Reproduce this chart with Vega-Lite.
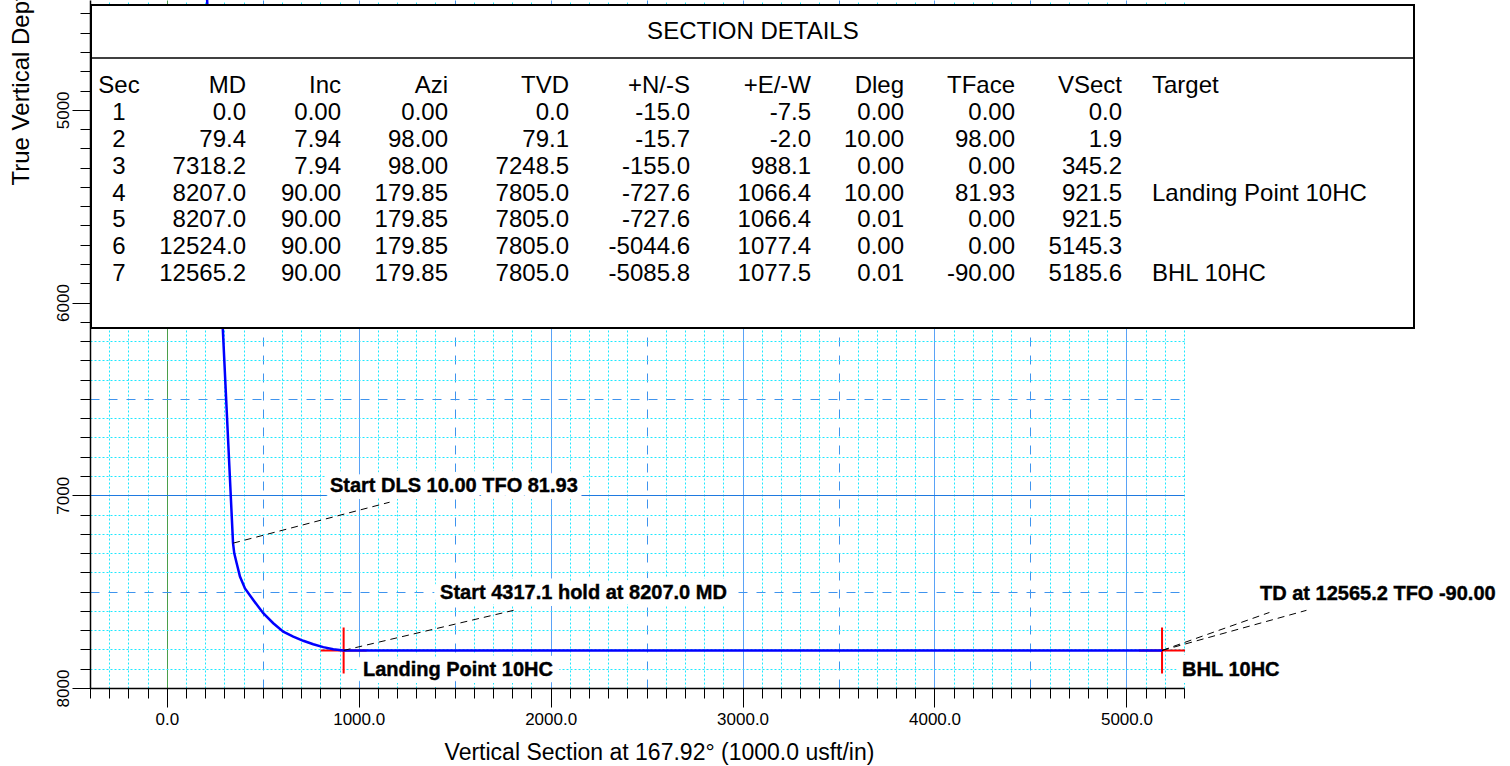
{
  "$schema": "https://vega.github.io/schema/vega-lite/v6.json",
  "width": 1094,
  "height": 688,
  "autosize": {"type": "none"},
  "padding": {"left": 90, "top": 0, "right": 326, "bottom": 78},
  "background": "white",
  "config": {"view": {"stroke": null}, "font": "Liberation Sans"},
  "datasets": {
    "path": [
      {"vs": 0, "tvd": 0}, {"vs": 1.9, "tvd": 79.1}, {"vs": 345.2, "tvd": 7248.5},
      {"vs": 351.7, "tvd": 7301}, {"vs": 364.2, "tvd": 7353}, {"vs": 381.4, "tvd": 7422},
      {"vs": 407.4, "tvd": 7483}, {"vs": 450.7, "tvd": 7543}, {"vs": 502.8, "tvd": 7612},
      {"vs": 554.9, "tvd": 7664}, {"vs": 607, "tvd": 7708}, {"vs": 659.1, "tvd": 7733},
      {"vs": 711.2, "tvd": 7755}, {"vs": 763.3, "tvd": 7773}, {"vs": 815.4, "tvd": 7788},
      {"vs": 867.5, "tvd": 7799}, {"vs": 921.5, "tvd": 7805}, {"vs": 5145.3, "tvd": 7805},
      {"vs": 5185.6, "tvd": 7805}
    ],
    "targets": [
      {"name": "Landing Point 10HC", "vs": 921.5, "tvd": 7805},
      {"name": "BHL 10HC", "vs": 5185.6, "tvd": 7805}
    ],
    "leaders": [
      {"vs": 345.2, "tvd": 7248.5, "vs2": 1161, "tvd2": 7036},
      {"vs": 921.5, "tvd": 7805, "vs2": 1807, "tvd2": 7597},
      {"vs": 5185.6, "tvd": 7805, "vs2": 5745, "tvd2": 7608},
      {"vs": 5185.6, "tvd": 7805, "vs2": 5938, "tvd2": 7597}
    ],
    "labels": [
      {"text": "Start DLS 10.00 TFO 81.93", "vs": 850, "tvd": 6952},
      {"text": "Start 4317.1 hold at 8207.0 MD", "vs": 1424, "tvd": 7507},
      {"text": "Landing Point 10HC", "vs": 1022, "tvd": 7907},
      {"text": "BHL 10HC", "vs": 5290, "tvd": 7907},
      {"text": "TD at 12565.2 TFO -90.00", "vs": 5696, "tvd": 7512}
    ],
    "box": [{"title": "SECTION DETAILS"}],
    "cols": [
      {"key": "Sec", "label": "Sec", "ci": 0},
      {"key": "MD", "label": "MD", "ci": 1},
      {"key": "Inc", "label": "Inc", "ci": 2},
      {"key": "Azi", "label": "Azi", "ci": 3},
      {"key": "TVD", "label": "TVD", "ci": 4},
      {"key": "NS", "label": "+N/-S", "ci": 5},
      {"key": "EW", "label": "+E/-W", "ci": 6},
      {"key": "Dleg", "label": "Dleg", "ci": 7},
      {"key": "TFace", "label": "TFace", "ci": 8},
      {"key": "VSect", "label": "VSect", "ci": 9},
      {"key": "Target", "label": "Target", "ci": 10}
    ],
    "sections": [
      {"Sec": 1, "MD": "0.0", "Inc": "0.00", "Azi": "0.00", "TVD": "0.0", "NS": "-15.0", "EW": "-7.5", "Dleg": "0.00", "TFace": "0.00", "VSect": "0.0", "Target": ""},
      {"Sec": 2, "MD": "79.4", "Inc": "7.94", "Azi": "98.00", "TVD": "79.1", "NS": "-15.7", "EW": "-2.0", "Dleg": "10.00", "TFace": "98.00", "VSect": "1.9", "Target": ""},
      {"Sec": 3, "MD": "7318.2", "Inc": "7.94", "Azi": "98.00", "TVD": "7248.5", "NS": "-155.0", "EW": "988.1", "Dleg": "0.00", "TFace": "0.00", "VSect": "345.2", "Target": ""},
      {"Sec": 4, "MD": "8207.0", "Inc": "90.00", "Azi": "179.85", "TVD": "7805.0", "NS": "-727.6", "EW": "1066.4", "Dleg": "10.00", "TFace": "81.93", "VSect": "921.5", "Target": "Landing Point 10HC"},
      {"Sec": 5, "MD": "8207.0", "Inc": "90.00", "Azi": "179.85", "TVD": "7805.0", "NS": "-727.6", "EW": "1066.4", "Dleg": "0.01", "TFace": "0.00", "VSect": "921.5", "Target": ""},
      {"Sec": 6, "MD": "12524.0", "Inc": "90.00", "Azi": "179.85", "TVD": "7805.0", "NS": "-5044.6", "EW": "1077.4", "Dleg": "0.00", "TFace": "0.00", "VSect": "5145.3", "Target": ""},
      {"Sec": 7, "MD": "12565.2", "Inc": "90.00", "Azi": "179.85", "TVD": "7805.0", "NS": "-5085.8", "EW": "1077.5", "Dleg": "0.01", "TFace": "-90.00", "VSect": "5185.6", "Target": "BHL 10HC"}
    ]
  },
  "layer": [
    {
      "encoding": {
        "x": {
          "field": "vs", "type": "quantitative",
          "scale": {"domain": [-400, 5300], "zero": false, "nice": false},
          "axis": {
            "values": [-400,-300,-200,-100,0,100,200,300,400,500,600,700,800,900,1000,1100,1200,1300,1400,1500,1600,1700,1800,1900,2000,2100,2200,2300,2400,2500,2600,2700,2800,2900,3000,3100,3200,3300,3400,3500,3600,3700,3800,3900,4000,4100,4200,4300,4400,4500,4600,4700,4800,4900,5000,5100,5200,5300],
            "grid": true,
            "gridColor": {"expr": "datum.value === 0 ? '#4a9e4a' : datum.value % 1000 === 0 ? '#5aa2f6' : datum.value % 500 === 0 ? '#3f94ee' : '#1ee8ff'"},
            "gridDash": {"expr": "datum.value % 1000 === 0 ? [] : datum.value % 500 === 0 ? [9, 9] : [2, 2]"},
            "gridWidth": 1,
            "gridOpacity": 1,
            "domainColor": "#000000",
            "domainWidth": 1.5,
            "tickColor": "#000000",
            "tickWidth": 1,
            "tickSize": {"expr": "datum.value % 1000 === 0 ? 19 : 10"},
            "labelExpr": "datum.value % 1000 === 0 ? format(datum.value, '.1f') : ''",
            "labelFont": "Liberation Sans",
            "labelFontSize": 17,
            "labelColor": "#000000",
            "labelPadding": 4,
            "labelOverlap": false,
            "labelFlush": false,
            "labelAlign": "center",
            "labelBaseline": "top",
            "title": "Vertical Section at 167.92° (1000.0 usft/in)",
            "titleFont": "Liberation Sans",
            "titleFontSize": 23,
            "titleFontWeight": "normal",
            "titleColor": "#000000",
            "titleX": 569,
            "titleY": 71,
            "titleAlign": "center",
            "titleBaseline": "alphabetic"
          }
        },
        "y": {
          "field": "tvd", "type": "quantitative",
          "scale": {"domain": [4430, 8000], "reverse": true, "zero": false, "nice": false},
          "axis": {
            "values": [4500,4600,4700,4800,4900,5000,5100,5200,5300,5400,5500,5600,5700,5800,5900,6000,6100,6200,6300,6400,6500,6600,6700,6800,6900,7000,7100,7200,7300,7400,7500,7600,7700,7800,7900,8000],
            "grid": true,
            "gridColor": {"expr": "datum.value % 1000 === 0 ? '#1f7ae0' : datum.value % 500 === 0 ? '#3f94ee' : '#1ee8ff'"},
            "gridDash": {"expr": "datum.value % 1000 === 0 ? [] : datum.value % 500 === 0 ? [9, 9] : [2, 2]"},
            "gridWidth": 1,
            "gridOpacity": 1,
            "domainColor": "#000000",
            "domainWidth": 1.5,
            "tickColor": "#000000",
            "tickWidth": 1,
            "tickSize": {"expr": "datum.value % 1000 === 0 ? 18 : 10"},
            "labelExpr": "datum.value % 1000 === 0 ? '' + datum.value : ''",
            "labelFont": "Liberation Sans",
            "labelFontSize": 17,
            "labelColor": "#000000",
            "labelAngle": 270,
            "labelAlign": "center",
            "labelBaseline": "alphabetic",
            "labelPadding": 4,
            "labelOverlap": false,
            "labelFlush": false,
            "title": "True Vertical Depth (1000.0 usft/in)",
            "titleFont": "Liberation Sans",
            "titleFontSize": 24,
            "titleFontWeight": "normal",
            "titleColor": "#000000",
            "titleAngle": 270,
            "titleAlign": "left",
            "titleBaseline": "alphabetic",
            "titleX": -62,
            "titleY": 185
          }
        }
      },
      "layer": [
        {
          "data": {"name": "targets"},
          "mark": {"type": "point", "shape": "M-1,0L1,0M0,-1L0,1", "size": 2116, "filled": false, "stroke": "#ff0000", "strokeWidth": 2, "opacity": 1}
        },
        {
          "data": {"name": "path"},
          "mark": {"type": "line", "color": "#0000ff", "strokeWidth": 2.5, "clip": true}
        },
        {
          "data": {"name": "leaders"},
          "mark": {"type": "rule", "color": "#000000", "strokeWidth": 1, "strokeDash": [7, 5]},
          "encoding": {"x2": {"field": "vs2"}, "y2": {"field": "tvd2"}}
        },
        {
          "data": {"name": "labels"},
          "mark": {"type": "text", "align": "left", "baseline": "middle", "font": "Liberation Sans", "fontSize": 20, "fontWeight": "bold", "fill": "#ffffff", "stroke": "#ffffff", "strokeWidth": 14, "strokeJoin": "round"},
          "encoding": {"text": {"field": "text"}}
        },
        {
          "data": {"name": "labels"},
          "mark": {"type": "text", "align": "left", "baseline": "middle", "font": "Liberation Sans", "fontSize": 20, "fontWeight": "bold", "fill": "#000000", "stroke": "#000000", "strokeWidth": 0.4},
          "encoding": {"text": {"field": "text"}}
        }
      ]
    },
    {
      "layer": [
        {
          "data": {"name": "box"},
          "mark": {"type": "rect", "fill": "#ffffff", "stroke": "#000000", "strokeWidth": 2},
          "encoding": {
            "x": {"datum": -1, "type": "quantitative", "axis": null, "scale": {"type": "linear", "domain": [-1,0,1,2,3,4,5,6,7,8,9,10,11], "range": [1,29,156,251,358,479,600,721,814,925,1032,1062,1324], "zero": false, "nice": false}},
            "x2": {"datum": 11},
            "y": {"datum": -3, "type": "quantitative", "axis": null, "scale": {"type": "linear", "domain": [-3,-2,-1,0,1,7,8], "range": [5,32,58,85.5,113,274,328], "zero": false, "nice": false}},
            "y2": {"datum": 8}
          }
        },
        {
          "data": {"name": "box"},
          "mark": {"type": "rule", "color": "#000000", "strokeWidth": 1.5},
          "encoding": {
            "x": {"datum": -1, "type": "quantitative", "axis": null},
            "x2": {"datum": 11},
            "y": {"datum": -1, "type": "quantitative", "axis": null}
          }
        },
        {
          "data": {"name": "box"},
          "mark": {"type": "text", "align": "center", "baseline": "middle", "font": "Liberation Sans", "fontSize": 24, "fill": "#000000"},
          "encoding": {
            "x": {"datum": 5.52, "type": "quantitative", "axis": null},
            "y": {"datum": -2, "type": "quantitative", "axis": null},
            "text": {"field": "title"}
          }
        },
        {
          "data": {"name": "cols"},
          "mark": {"type": "text", "baseline": "middle", "font": "Liberation Sans", "fontSize": 24, "fill": "#000000", "align": {"expr": "datum.ci === 10 ? 'left' : datum.ci === 0 ? 'center' : 'right'"}},
          "encoding": {
            "x": {"field": "ci", "type": "quantitative", "axis": null},
            "y": {"datum": 0, "type": "quantitative", "axis": null},
            "text": {"field": "label"}
          }
        },
        {
          "data": {"name": "sections"},
          "transform": [
            {"fold": ["Sec", "MD", "Inc", "Azi", "TVD", "NS", "EW", "Dleg", "TFace", "VSect", "Target"], "as": ["key", "val"]},
            {"lookup": "key", "from": {"data": {"name": "cols"}, "key": "key", "fields": ["ci"]}}
          ],
          "mark": {"type": "text", "baseline": "middle", "font": "Liberation Sans", "fontSize": 24, "fill": "#000000", "align": {"expr": "datum.ci === 10 ? 'left' : datum.ci === 0 ? 'center' : 'right'"}},
          "encoding": {
            "x": {"field": "ci", "type": "quantitative", "axis": null},
            "y": {"field": "Sec", "type": "quantitative", "axis": null},
            "text": {"field": "val"}
          }
        }
      ]
    }
  ],
  "resolve": {"scale": {"x": "independent", "y": "independent"}}
}
